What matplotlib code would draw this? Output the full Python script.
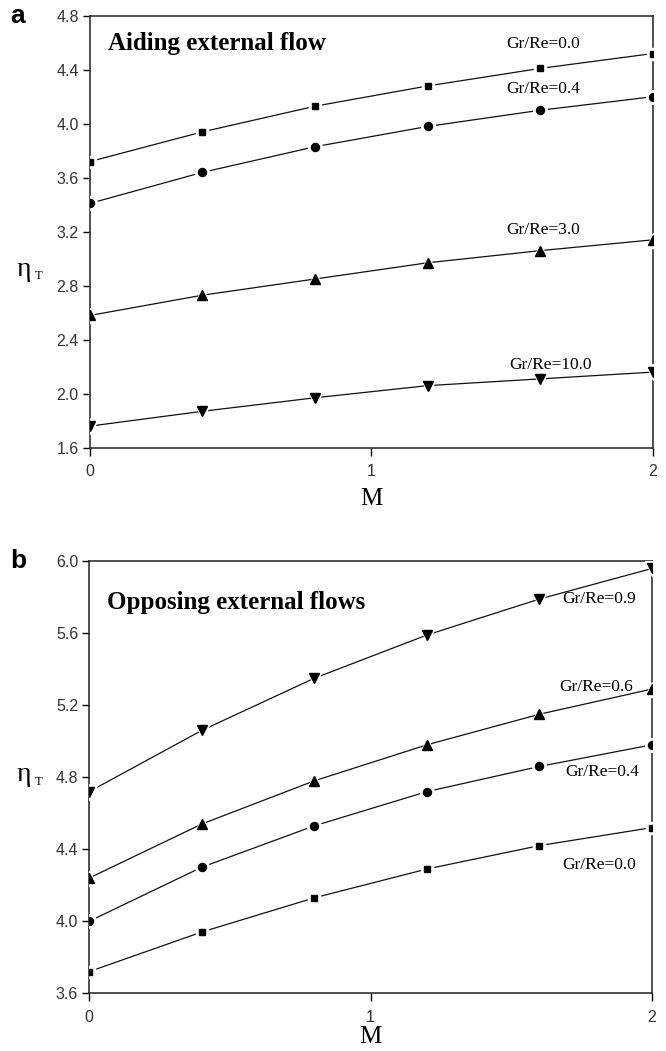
import matplotlib
matplotlib.use('Agg')
import matplotlib.pyplot as plt

# data
M = [0.0, 0.4, 0.8, 1.2, 1.6, 2.0]

# (a) aiding external flow
aid_labels = ['Gr/Re=0.0', 'Gr/Re=0.4', 'Gr/Re=3.0', 'Gr/Re=10.0']
aid_00 = [3.72, 3.94, 4.13, 4.28, 4.41, 4.52]
aid_04 = [3.41, 3.64, 3.83, 3.98, 4.10, 4.20]
aid_30 = [2.58, 2.73, 2.85, 2.97, 3.06, 3.14]
aid_10 = [1.76, 1.87, 1.97, 2.06, 2.11, 2.16]

# (b) opposing external flows
opp_labels = ['Gr/Re=0.9', 'Gr/Re=0.6', 'Gr/Re=0.4', 'Gr/Re=0.0']
opp_09 = [4.72, 5.06, 5.35, 5.59, 5.79, 5.96]
opp_06 = [4.24, 4.54, 4.78, 4.98, 5.15, 5.29]
opp_04 = [4.00, 4.30, 4.53, 4.72, 4.86, 4.98]
opp_00 = [3.72, 3.94, 4.13, 4.29, 4.42, 4.52]

TICK_FONT = ['Liberation Sans Narrow', 'Liberation Sans', 'DejaVu Sans']
SERIF = ['Liberation Serif', 'DejaVu Serif']


def draw_series(ax, y, marker, ms):
    ax.plot(M, y, '-', color='#111111', lw=0.9, zorder=2)
    # white halo leaves the small gap around each marker
    ax.plot(M, y, linestyle='none', marker=marker, ms=ms + 4, color='white',
            mec='white', zorder=3)
    ax.plot(M, y, linestyle='none', marker=marker, ms=ms, color='black',
            zorder=4)


def style_axes(ax, ylim, yticks, xpad):
    ax.set_xlim(0, 2)
    ax.set_ylim(*ylim)
    ax.set_xticks([0, 1, 2])
    ax.set_xticklabels(['0', '1', '2'])
    ax.set_yticks(yticks)
    ax.set_yticklabels([f'{t:.1f}' for t in yticks])
    for lbl in ax.get_xticklabels() + ax.get_yticklabels():
        lbl.set_family(TICK_FONT)
        lbl.set_fontsize(11.5)
        lbl.set_color('#333333')
    ax.tick_params(axis='x', direction='out', length=6, width=1, pad=6)
    ax.tick_params(axis='y', direction='out', length=5, width=1, pad=3)
    for s in ax.spines.values():
        s.set_linewidth(1.1)
        s.set_color('#222222')
    ax.set_xlabel('M', family=SERIF, fontsize=18, labelpad=xpad)


def eta_label(x, y):
    fig.text(x, y, 'η', family=SERIF, fontsize=20, va='center', ha='left')
    fig.text(x + 0.027, y - 0.007, 'T', family=SERIF, fontsize=9,
             va='center', ha='left')


fig = plt.figure(figsize=(6.66, 10.51), dpi=100)

# ---- panel a
ax1 = fig.add_axes([0.135, 0.574, 0.845, 0.411])
draw_series(ax1, aid_00, 's', 5)
draw_series(ax1, aid_04, 'o', 5.8)
draw_series(ax1, aid_30, '^', 6.8)
draw_series(ax1, aid_10, 'v', 6.8)
style_axes(ax1, (1.6, 4.8), [1.6, 2.0, 2.4, 2.8, 3.2, 3.6, 4.0, 4.4, 4.8], 6)
eta_label(0.025, 0.744)

aid_pos = [(1.48, 4.59), (1.48, 4.26), (1.48, 3.21), (1.49, 2.21)]
for lbl, (x, y) in zip(aid_labels, aid_pos):
    ax1.text(x, y, lbl, family=SERIF, fontsize=12.5, va='center', ha='left')
ax1.text(0.032, 0.935, 'Aiding external flow', transform=ax1.transAxes,
         family=SERIF, fontsize=18, fontweight='bold', va='center')
fig.text(0.015, 0.985, 'a', fontsize=19, fontweight='bold',
         family='Liberation Sans', va='center')

# ---- panel b
ax2 = fig.add_axes([0.134, 0.055, 0.845, 0.411])
draw_series(ax2, opp_09, 'v', 6.8)
draw_series(ax2, opp_06, '^', 6.8)
draw_series(ax2, opp_04, 'o', 5.8)
draw_series(ax2, opp_00, 's', 5)
style_axes(ax2, (3.6, 6.0), [3.6, 4.0, 4.4, 4.8, 5.2, 5.6, 6.0], 1)
eta_label(0.025, 0.263)

opp_pos = [(1.68, 5.79), (1.67, 5.30), (1.69, 4.83), (1.68, 4.31)]
for lbl, (x, y) in zip(opp_labels, opp_pos):
    ax2.text(x, y, lbl, family=SERIF, fontsize=12.5, va='center', ha='left')
ax2.text(0.032, 0.905, 'Opposing external flows', transform=ax2.transAxes,
         family=SERIF, fontsize=18, fontweight='bold', va='center')
fig.text(0.015, 0.466, 'b', fontsize=19, fontweight='bold',
         family='Liberation Sans', va='center')

fig.savefig('out.png', dpi=100)
